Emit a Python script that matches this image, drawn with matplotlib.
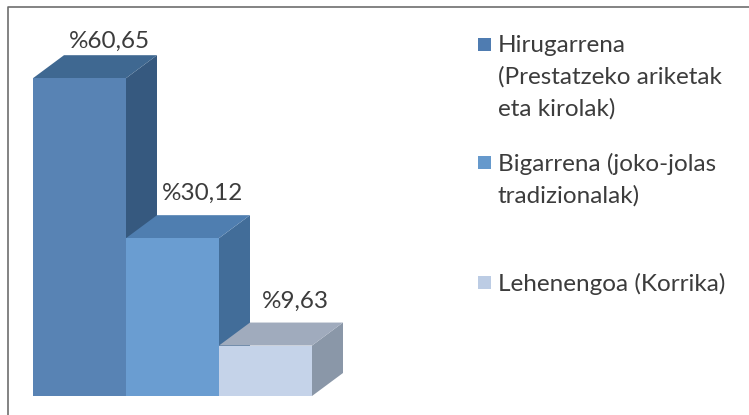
import matplotlib
matplotlib.use("Agg")
import matplotlib.pyplot as plt
from matplotlib.patches import Polygon, Rectangle
from matplotlib.lines import Line2D

# data
values = [60.65, 30.12, 9.63]
value_labels = ['%60,65', '%30,12', '%9,63']
legend_labels = ['Hirugarrena\n(Prestatzeko ariketak\neta kirolak)',
                 'Bigarrena (joko-jolas\ntradizionalak)',
                 'Lehenengoa (Korrika)']

front_colors = ['#5883B4', '#6A9DD1', '#C5D3E9']
top_colors = ['#3F6891', '#4F7EB0', '#A0ABBD']
side_colors = ['#36597F', '#426D99', '#8A97A8']
legend_colors = ['#4F7CB1', '#6699CC', '#BCCCE4']

plt.rcParams['font.family'] = ['Lato', 'DejaVu Sans']

W, H = 749, 415
fig = plt.figure(figsize=(W / 100, H / 100), dpi=100)
ax = fig.add_axes([0, 0, 1, 1])
ax.axis('off')

# pixel mapping: bar i front spans 93 px, 5.24 px per percent, baseline at y=396
px_x, px_y = 93.0, 5.24
ax.set_xlim(-33 / px_x, (W - 33) / px_x)
ax.set_ylim(-(H - 396) / px_y, 396 / px_y)

dx = 31 / px_x
dy = 23 / px_y

for i, v in enumerate(values):
    x0, x1 = i, i + 1
    # side face
    ax.add_patch(Polygon([(x1, 0), (x1 + dx, dy), (x1 + dx, v + dy), (x1, v)],
                         closed=True, facecolor=side_colors[i], edgecolor='none'))
    # top face
    ax.add_patch(Polygon([(x0, v), (x0 + dx, v + dy), (x1 + dx, v + dy), (x1, v)],
                         closed=True, facecolor=top_colors[i], edgecolor='none'))
    # front face
    ax.add_patch(Rectangle((x0, 0), 1, v, facecolor=front_colors[i], edgecolor='none'))

for i, v in enumerate(values):
    ly = min(v + dy + 15 / px_y, 348 / px_y)
    ax.text(i + 0.82, ly, value_labels[i], ha='center', va='baseline',
            fontsize=17.5, color='#3C3C3C')

# legend
legend_tops = [39, 157, 277]
for lab, col, top in zip(legend_labels, legend_colors, legend_tops):
    fig.patches.append(Rectangle((478 / W, 1 - (top + 12) / H), 13 / W, 13 / H,
                                 transform=fig.transFigure, facecolor=col,
                                 edgecolor='none'))
    fig.text(498 / W, 1 - (top - 4) / H, lab, ha='left', va='top',
             fontsize=17.5, color='#3C3C3C', linespacing=1.58)

# frame: left and top edges only
fig.add_artist(Line2D([7.5 / W, 7.5 / W, 1], [0, 1 - 7.5 / H, 1 - 7.5 / H],
                      transform=fig.transFigure, color='#6E6E6E', linewidth=1.2))

fig.savefig('out.png', dpi=100)
